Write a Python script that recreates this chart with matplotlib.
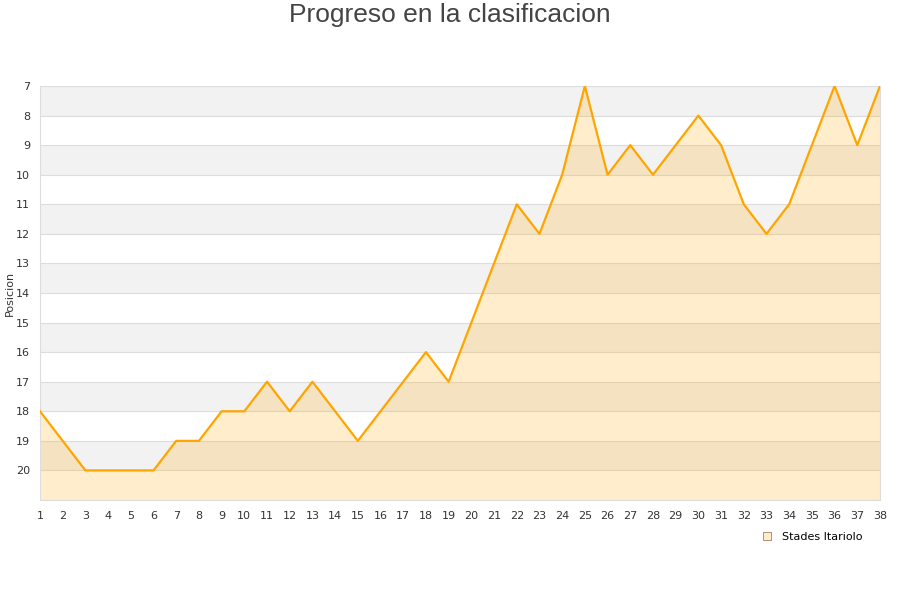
import matplotlib.pyplot as plt
from matplotlib.lines import Line2D

# Datos
jornadas = list(range(1, 39))
posiciones = [18, 19, 20, 20, 20, 20, 19, 19, 18, 18,
              17, 18, 17, 18, 19, 18, 17, 16, 17, 15,
              13, 11, 12, 10, 7, 10, 9, 10, 9, 8,
              9, 11, 12, 11, 9, 7, 9, 7]
equipo = 'Stades Itariolo'
y_ticks = list(range(7, 21))

fig = plt.figure(figsize=(9, 6), dpi=100)
ax = fig.add_axes([40 / 900, 1 - 500 / 600, 840 / 900, 414 / 600])

ax.set_xlim(1, 38)
ax.set_ylim(21, 7)

# Bandas alternas
for y in range(7, 21, 2):
    ax.axhspan(y, y + 1, color='#f2f2f2', zorder=0, lw=0)
for y in range(7, 22):
    ax.axhline(y, color='#dddddd', lw=0.8, zorder=1)

ax.fill_between(jornadas, posiciones, 21, color='#ffa500', alpha=0.2, lw=0, zorder=2)
ax.plot(jornadas, posiciones, color='#ffa500', lw=1.6, zorder=3)

ax.set_xticks(jornadas)
ax.set_yticks(y_ticks)
ax.tick_params(length=0, labelsize=8, colors='#333333')
ax.tick_params(axis='y', pad=7)
ax.tick_params(axis='x', pad=8)

for s in ['top']:
    ax.spines[s].set_visible(False)
for s in ['left', 'bottom', 'right']:
    ax.spines[s].set_color('#dddddd')

fig.text(10 / 900, 1 - 293 / 600, 'Posicion', rotation=90, ha='center', va='center',
         fontsize=8, color='#333333')

fig.text(0.5, 1 - 15 / 600, 'Progreso en la clasificacion', ha='center', va='center',
         fontsize=19, color='#444444', family='Liberation Sans')

handle = Line2D([], [], marker='s', linestyle='none', markersize=6,
                markerfacecolor='#ffeccc', markeredgecolor='#a08060', markeredgewidth=0.6)
fig.legend([handle], [equipo], loc='center', bbox_to_anchor=(809 / 900, 1 - 537 / 600),
           frameon=False, fontsize=8, handletextpad=0.3)

plt.savefig('out.png')
